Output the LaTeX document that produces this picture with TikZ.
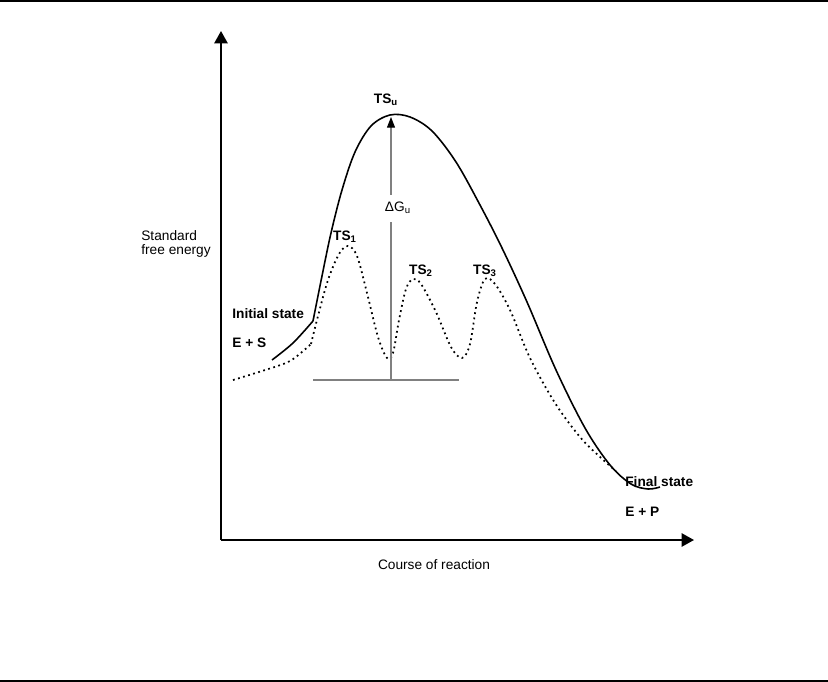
\documentclass[tikz,border=0pt]{standalone}
\usepackage{fontspec}
\setmainfont{Liberation Sans}
\usetikzlibrary{arrows.meta}
\newcommand{\lblfont}{\fontsize{7.8}{8.4}\selectfont}

\begin{document}
\begin{tikzpicture}[x=0.02cm, y=-0.02cm, every node/.style={font=\lblfont, inner sep=0pt},
    axis/.style={line width=1.1pt, -{Triangle[length=7pt,width=7.5pt]}},
    boldlbl/.style={font=\lblfont\bfseries},
    rule/.style={line width=1.1pt}]
  \useasboundingbox (0,0) rectangle (828,682);
  % --- frame lines ---
  \draw[rule] (0,1) -- (828,1);
  \draw[rule] (0,681) -- (828,681);
  % --- axes ---
  \coordinate (origin) at (221,540);
  \draw[axis] (origin) -- (221,31);
  \draw[axis] (origin) -- (694,540);
  \node[align=left, anchor=west] (ylbl) at (141,244) {Standard\\free energy};
  \node (xlbl) at (434,565) {Course of reaction};
  % --- uncatalysed path ---
  \draw[line width=0.9pt] plot[smooth, tension=0.55] coordinates {(272,360) (293,343) (313,321)};
  \draw[line width=0.9pt] plot[smooth, tension=0.55] coordinates {(313,321) (322,276) (331,233)
      (342,190) (355,152) (371,126) (390,115) (410,117) (432,131) (456,162) (480,205) (502,248)
      (527,302) (556,370) (585,428) (610,465) (631,484) (648,489) (660,487)};
  % --- catalysed path ---
  \draw[line width=1pt, dotted] plot[smooth, tension=0.5] coordinates {(233,380) (262,371) (290,361) (311,344)};
  \draw[line width=1pt, dotted] plot[smooth, tension=0.55] coordinates {(311,344) (318,316)
      (328,280) (339,254) (348,246) (357,256) (367,293) (378,337) (387,358) (393,353) (399,320)
      (406,289) (413,279) (421,284) (436,312) (451,347) (462,358) (470,344) (477,302) (485,279)
      (495,284) (510,310) (530,358) (555,403) (580,437) (600,457) (616,471)};
  % --- energy barrier ---
  \coordinate (dGbase) at (391,380);
  \coordinate (dGlow) at (391,222);
  \coordinate (dGhigh) at (391,195);
  \coordinate (dGtop) at (391,117);
  \draw[gray, line width=0.6pt] (313,380) -- (459,380);
  \node (dG) at (398,208) {ΔG\textsubscript{u}};
  \draw[gray, line width=0.6pt] (dGbase) -- (dGlow);
  \draw[gray, line width=0.6pt, -{Triangle[length=6pt,width=4.5pt,black]}] (dGhigh) -- (dGtop);
  % --- labels ---
  \node[boldlbl] (tsu) at (386,100) {TS\textsubscript{u}};
  \node[boldlbl] (ts1) at (345,237) {TS\textsubscript{1}};
  \node[boldlbl] (ts2) at (421,271) {TS\textsubscript{2}};
  \node[boldlbl] (ts3) at (485,271) {TS\textsubscript{3}};
  \node[boldlbl, anchor=west] (init) at (232,314) {Initial state};
  \node[boldlbl, anchor=west] (es) at (232,343) {E + S};
  \node[boldlbl, anchor=west] (final) at (625,482) {Final state};
  \node[boldlbl, anchor=west] (ep) at (625,512) {E + P};
\end{tikzpicture}
\end{document}
